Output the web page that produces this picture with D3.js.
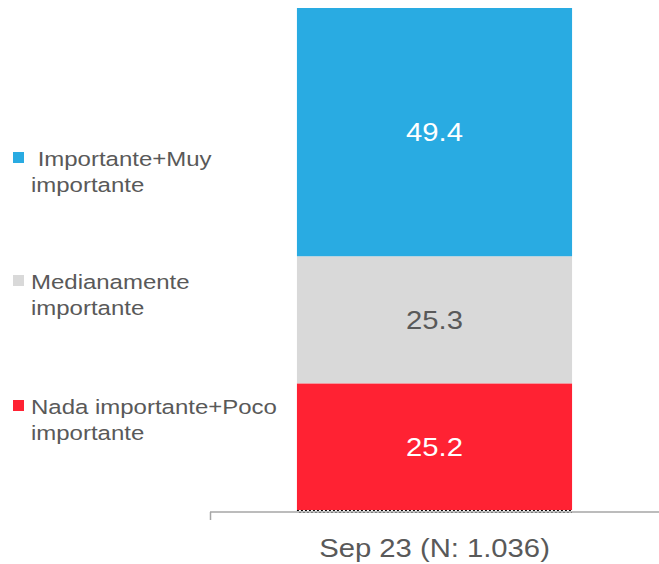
<!DOCTYPE html>
<html>
<head>
<meta charset="utf-8">
<script src="https://cdn.jsdelivr.net/npm/d3@7"></script>
<style>
  body { margin: 0; background: #fff; }
  text { font-family: "Liberation Sans", Arial, sans-serif; }
</style>
</head>
<body>
<svg id="chart"></svg>
<script>
// data
const categories = ['Sep 23 (N: 1.036)'];
const seriesNames = ['NS/NR', 'Nada importante+Poco importante', 'Medianamente importante', 'Importante+Muy importante'];
const seriesValues = [0.1, 25.2, 25.3, 49.4];
const seriesColors = ['#ffffff', '#FF2233', '#D9D9D9', '#29ABE2'];
const labelColors = [null, '#ffffff', '#595959', '#ffffff'];
const legendLines = [
    [' Importante+Muy', 'importante'],
    ['Medianamente', 'importante'],
    ['Nada importante+Poco', 'importante']
];
const legendColors = ['#29ABE2', '#D9D9D9', '#FF2233'];

const width = 659, height = 564;
const margin = { top: 8, right: 0, bottom: 53, left: 210 };
const sx = 1.17; // text in the original is drawn slightly wide

const svg = d3.select('#chart')
    .attr('width', width)
    .attr('height', height);

const x = d3.scaleBand()
    .domain(categories)
    .range([margin.left, width])
    .paddingInner(0)
    .paddingOuter(0.316);

const y = d3.scaleLinear()
    .domain([0, 100])
    .range([height - margin.bottom - 0.5, margin.top]);

// stack
let acc = 0;
const stacked = seriesValues.map((v, i) => {
    const s = { y0: acc, y1: acc + v, value: v, i: i };
    acc += v;
    return s;
});

const bar = svg.append('g');
const cx = x(categories[0]) + x.bandwidth() / 2;

bar.selectAll('.seg')
    .data(stacked)
    .join('rect')
    .attr('class', 'seg')
    .attr('x', x(categories[0]))
    .attr('width', x.bandwidth())
    .attr('y', d => y(d.y1))
    .attr('height', d => y(d.y0) - y(d.y1))
    .attr('fill', d => seriesColors[d.i]);

// tiny NS/NR segment drawn as a dotted band
const tiny = stacked[0];
[0, 2].forEach((off, k) => {
    bar.append('line')
        .attr('x1', x(categories[0]) + k * 2)
        .attr('x2', x(categories[0]) + x.bandwidth())
        .attr('y1', y(tiny.y1) + off + 0.5)
        .attr('y2', y(tiny.y1) + off + 0.5)
        .attr('stroke', '#000')
        .attr('stroke-width', 1)
        .attr('stroke-dasharray', '2,2');
});

// value labels
bar.selectAll('.val')
    .data(stacked.filter(d => d.value > 1))
    .join('text')
    .attr('class', 'val')
    .attr('transform', d => `translate(${cx},${(y(d.y0) + y(d.y1)) / 2 + 9}) scale(${sx},1)`)
    .attr('text-anchor', 'middle')
    .attr('font-size', 25)
    .attr('fill', d => labelColors[d.i])
    .text(d => d.value.toFixed(1));

// x axis
const axisY = height - margin.bottom + 1;
svg.append('line')
    .attr('x1', margin.left).attr('x2', width)
    .attr('y1', axisY).attr('y2', axisY)
    .attr('stroke', '#a6a6a6').attr('stroke-width', 1.5);
svg.append('line')
    .attr('x1', margin.left + 0.5).attr('x2', margin.left + 0.5)
    .attr('y1', axisY).attr('y2', axisY + 8)
    .attr('stroke', '#a6a6a6').attr('stroke-width', 1.5);

svg.append('text')
    .attr('transform', `translate(${cx},557) scale(${sx},1)`)
    .attr('text-anchor', 'middle')
    .attr('font-size', 25)
    .attr('fill', '#595959')
    .text(categories[0]);

// legend
const legendY = [158, 281, 406];
const legend = svg.selectAll('.legend')
    .data(legendLines)
    .join('g')
    .attr('class', 'legend')
    .attr('transform', (d, i) => `translate(0,${legendY[i]})`);

legend.append('rect')
    .attr('x', 13).attr('y', -6)
    .attr('width', 11).attr('height', 11)
    .attr('fill', (d, i) => legendColors[i]);

legend.selectAll('text')
    .data(d => d)
    .join('text')
    .attr('transform', (d, j) => `translate(31,${8 + j * 26}) scale(${sx},1)`)
    .attr('font-size', 20.5)
    .attr('fill', '#595959')
    .attr('xml:space', 'preserve')
    .text(d => d);
</script>
</body>
</html>
